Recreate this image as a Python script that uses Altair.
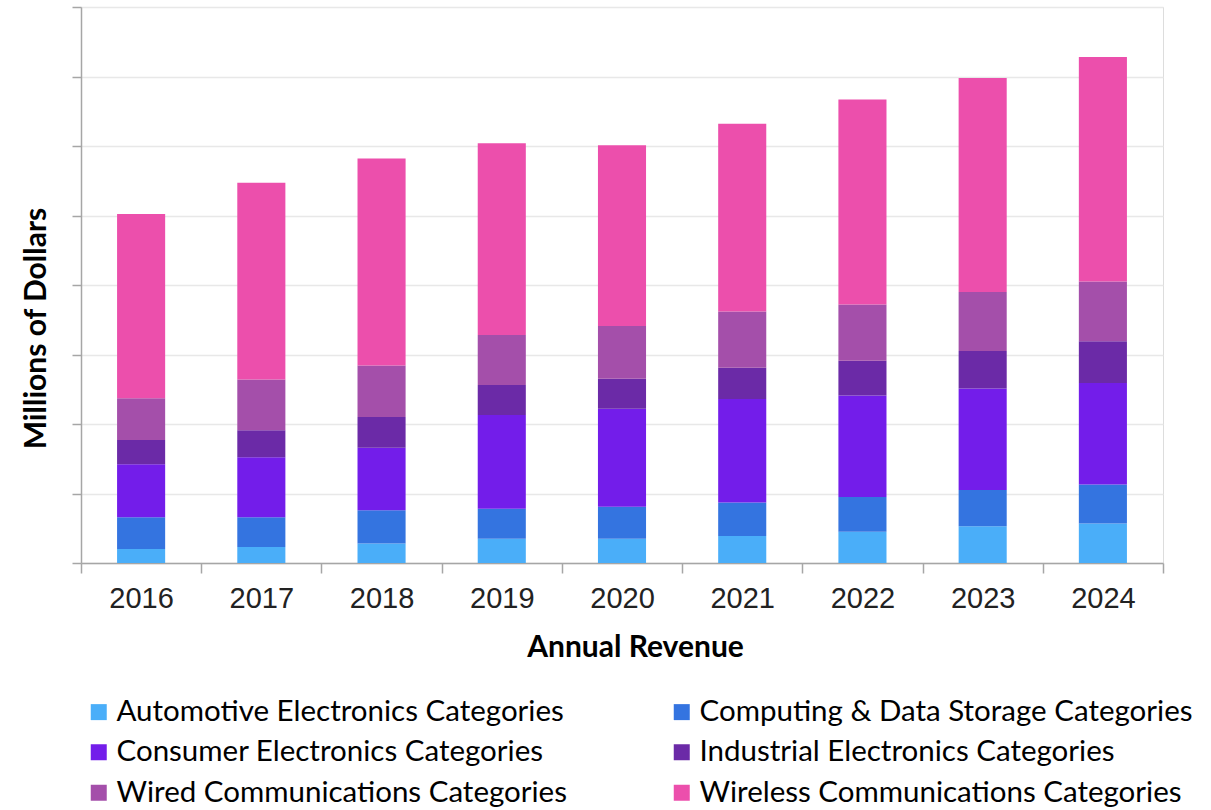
import altair as alt
import pandas as pd

years = ["2016", "2017", "2018", "2019", "2020", "2021", "2022", "2023", "2024"]
categories = [
    "Automotive Electronics Categories",
    "Computing & Data Storage Categories",
    "Consumer Electronics Categories",
    "Industrial Electronics Categories",
    "Wired Communications Categories",
    "Wireless Communications Categories",
]
colors = ["#4AAEF9", "#3474E0", "#731DEA", "#6B2AA7", "#A44FAA", "#EC4FAC"]

automotive = [0.20, 0.23, 0.28, 0.35, 0.35, 0.39, 0.45, 0.53, 0.57]
computing = [0.46, 0.43, 0.48, 0.43, 0.46, 0.48, 0.50, 0.52, 0.56]
consumer = [0.76, 0.86, 0.90, 1.35, 1.41, 1.49, 1.46, 1.46, 1.46]
industrial = [0.35, 0.39, 0.44, 0.43, 0.43, 0.45, 0.50, 0.54, 0.60]
wired = [0.60, 0.73, 0.74, 0.72, 0.76, 0.81, 0.81, 0.85, 0.86]
wireless = [2.65, 2.83, 2.98, 2.76, 2.60, 2.70, 2.95, 3.08, 3.23]
series = [automotive, computing, consumer, industrial, wired, wireless]

rows = []
for ci, (cat, vals) in enumerate(zip(categories, series)):
    for yr, v in zip(years, vals):
        rows.append({"year": yr, "category": cat, "value": v, "order": ci})
df = pd.DataFrame(rows)

chart = (
    alt.Chart(df)
    .mark_bar(width=alt.RelativeBandSize(0.4))
    .encode(
        x=alt.X(
            "year:N",
            sort=years,
            title="Annual Revenue",
            scale=alt.Scale(paddingInner=0, paddingOuter=0),
            axis=alt.Axis(
                labelAngle=0,
                labelFont="Liberation Sans",
                labelFontSize=29,
                labelColor="#222222",
                labelPadding=11,
                tickBand="extent",
                tickSize=10,
                tickColor="#a6a6a6",
                tickWidth=1.5,
                domainColor="#a6a6a6",
                domainWidth=1.5,
                grid=False,
                titleFont="Lato",
                titleFontSize=30,
                titleFontWeight="bold",
                titleColor="#000000",
                titleX=554,
                titleY=93,
                titleBaseline="alphabetic",
            ),
        ),
        y=alt.Y(
            "value:Q",
            stack="zero",
            title="Millions of Dollars",
            scale=alt.Scale(domain=[0, 8], nice=False),
            axis=alt.Axis(
                values=list(range(9)),
                labels=False,
                tickSize=9,
                tickColor="#a6a6a6",
                tickWidth=1.5,
                domainColor="#a6a6a6",
                domainWidth=1.5,
                grid=True,
                gridColor="#e8e8e8",
                gridWidth=1.5,
                titleFont="Lato",
                titleFontSize=30,
                titleFontWeight="bold",
                titleColor="#000000",
                titleAngle=270,
                titleX=-36,
                titleY=321,
                titleAlign="center",
                titleBaseline="alphabetic",
            ),
        ),
        color=alt.Color(
            "category:N",
            scale=alt.Scale(domain=categories, range=colors),
            legend=alt.Legend(
                title=None,
                orient="none",
                direction="horizontal",
                legendX=3,
                legendY=690,
                columns=2,
                symbolType="square",
                symbolSize=256,
                symbolStrokeWidth=0,
                labelFont="Lato",
                labelFontSize=29.5,
                labelColor="#000000",
                labelOffset=3,
                labelLimit=600,
                rowPadding=9.5,
                columnPadding=100,
            ),
        ),
        order=alt.Order("order:Q", sort="ascending"),
    )
    .properties(
        width=1082,
        height=556,
        autosize=alt.AutoSizeParams(type="none"),
        padding={"left": 81, "top": 7, "right": 48, "bottom": 247},
    )
    .configure_view(stroke=None)
    .configure(background="white")
)

chart.save("out.html", embed_options={"renderer": "svg", "actions": False})
